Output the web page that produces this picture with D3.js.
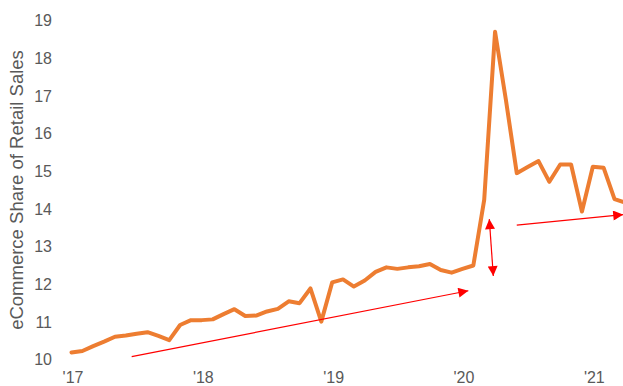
<!DOCTYPE html>
<html>
<head>
<meta charset="utf-8">
<script src="https://cdn.jsdelivr.net/npm/d3@7"></script>
<style>
  html, body { margin: 0; padding: 0; background: #fff; }
  svg { display: block; }
</style>
</head>
<body>
<svg id="chart" width="623" height="386"></svg>
<script>
// Monthly eCommerce share of retail sales, Jan 2017 onward (month index 0 = Jan '17)
const values = [
  10.19, 10.23, 10.36, 10.48, 10.61, 10.64, 10.69, 10.73, 10.63, 10.52, 10.92, 11.05,
  11.05, 11.07, 11.21, 11.34, 11.16, 11.17, 11.28, 11.35, 11.55, 11.50, 11.89, 11.01,
  12.05, 12.13, 11.94, 12.10, 12.33, 12.45, 12.41, 12.45, 12.48, 12.54, 12.38, 12.31,
  12.41, 12.50, 14.24, 18.70, 16.89, 14.95, 15.11, 15.27, 14.72, 15.18, 15.18, 13.93,
  15.12, 15.09, 14.26, 14.17
];
const xTickMonths = [0, 12, 24, 36, 48];
const xTickLabels = ["'17", "'18", "'19", "'20", "'21"];
const yTicks = [10, 11, 12, 13, 14, 15, 16, 17, 18, 19];
const yTitle = "eCommerce Share of Retail Sales";

// Annotation arrows in data space: [monthIndex, value]
const trendArrow1 = [[5.54, 10.08], [36.54, 11.83]];
const jumpArrow = [[38.47, 13.73], [38.84, 12.22]];
const trendArrow2 = [[41.0, 13.57], [50.8, 13.85]];

const svg = d3.select("#chart");
const x = d3.scaleLinear().domain([0, 48]).range([71.5, 592.8]);
const y = d3.scaleLinear().domain([10, 19]).range([359.7, 20.5]);

const font = "'Liberation Sans', Arial, sans-serif";
const grey = "#595959";

// Y axis (labels only)
const yAxis = d3.axisLeft(y).tickValues(yTicks).tickSize(0).tickPadding(0).tickFormat(d3.format("d"));
const gy = svg.append("g").attr("transform", "translate(52,0)").call(yAxis);
gy.select(".domain").remove();
gy.selectAll("text").attr("fill", grey).style("font-family", font).style("font-size", "16px");

// X axis (labels only)
const xAxis = d3.axisBottom(x).tickValues(xTickMonths).tickSize(0).tickPadding(0)
  .tickFormat((d, i) => xTickLabels[i]);
const gx = svg.append("g").attr("transform", "translate(1,372)").call(xAxis);
gx.select(".domain").remove();
gx.selectAll("text").attr("fill", grey).style("font-family", font).style("font-size", "16px");

// Y title
svg.append("text")
  .attr("transform", "translate(23,190) rotate(-90)")
  .attr("text-anchor", "middle")
  .attr("fill", grey)
  .style("font-family", font)
  .style("font-size", "18.5px")
  .text(yTitle);

// Line
const line = d3.line().x((d, i) => x(i)).y(d => y(d));
svg.append("path")
  .datum(values)
  .attr("d", line)
  .attr("fill", "none")
  .attr("stroke", "#ED7D31")
  .attr("stroke-width", 4)
  .attr("stroke-linejoin", "round")
  .attr("stroke-linecap", "round");

// Arrowhead marker
const defs = svg.append("defs");
defs.append("marker")
  .attr("id", "ah")
  .attr("viewBox", "0 0 10 10")
  .attr("refX", 10).attr("refY", 5)
  .attr("markerWidth", 11).attr("markerHeight", 10)
  .attr("markerUnits", "userSpaceOnUse")
  .attr("orient", "auto-start-reverse")
  .append("path").attr("d", "M0,0 L10,5 L0,10 Z").attr("fill", "#FF0000");

function arrow(pts, both) {
  const p = svg.append("line")
    .attr("x1", x(pts[0][0])).attr("y1", y(pts[0][1]))
    .attr("x2", x(pts[1][0])).attr("y2", y(pts[1][1]))
    .attr("stroke", "#FF0000").attr("stroke-width", 1.2)
    .attr("marker-end", "url(#ah)");
  if (both) p.attr("marker-start", "url(#ah)");
}
arrow(trendArrow1, false);
arrow(jumpArrow, true);
arrow(trendArrow2, false);
</script>
</body>
</html>
